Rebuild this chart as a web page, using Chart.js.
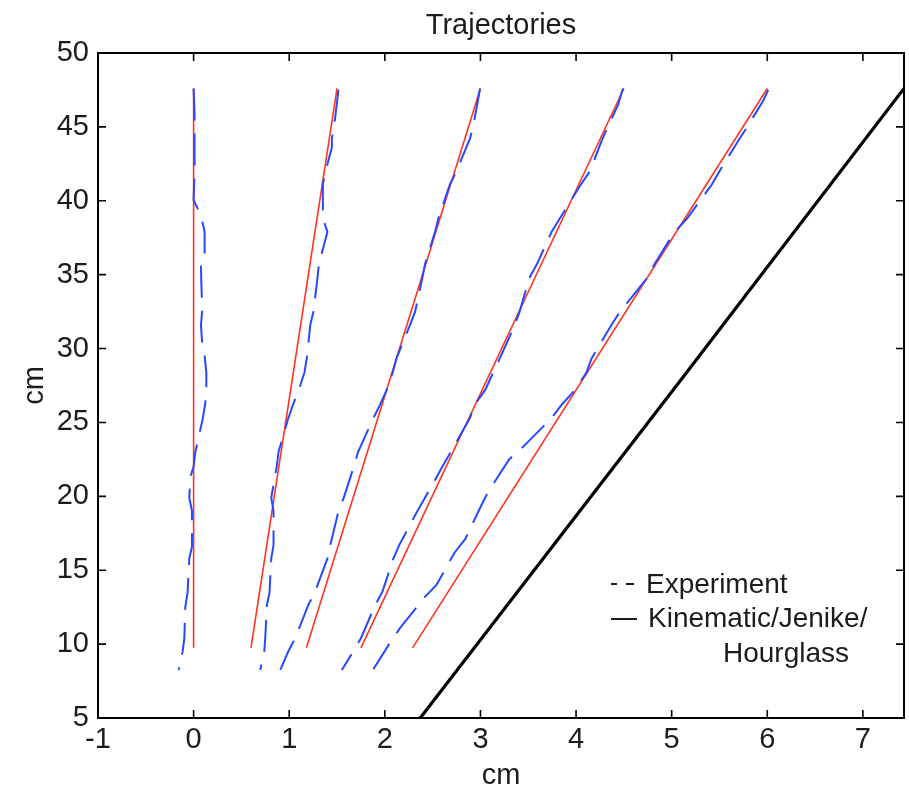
<!DOCTYPE html>
<html>
<head>
<meta charset="utf-8">
<script src="https://cdn.jsdelivr.net/npm/chart.js@4.4.1/dist/chart.umd.min.js"></script>
<style>
  html, body { margin: 0; padding: 0; background: #fff; }
  #wrap { width: 909px; height: 796px; }
</style>
</head>
<body>
<div id="wrap"><canvas id="trayectorias" width="909" height="796"></canvas></div>
<script>
// ticks
const xTicks = [-1, 0, 1, 2, 3, 4, 5, 6, 7];
const yTicks = [5, 10, 15, 20, 25, 30, 35, 40, 45, 50];

// experiment (dashed blue)
const exp1Y = [47.6, 45.9, 44.0, 42.0, 40.05, 39.0, 37.9, 36.45, 35.7, 34.6, 32.6, 31.6, 30.3, 29.5, 28.4, 27.2, 26.2, 25.2, 23.0, 22.0, 21.3, 19.9, 19.0, 16.6, 15.8, 13.5, 12.5, 10.4, 9.5, 8.25];
const exp1X = [0.0, 0.01, 0.01, 0.01, 0.0, 0.077, 0.115, 0.115, 0.077, 0.08, 0.09, 0.077, 0.09, 0.115, 0.133, 0.133, 0.12, 0.094, 0.018, 0.0, -0.035, -0.045, -0.017, -0.017, -0.045, -0.063, -0.087, -0.097, -0.115, -0.157];

const exp2Y = [47.5, 45.2, 44.2, 43.6, 41.9, 41.1, 38.8, 37.9, 35.7, 34.8, 32.5, 31.6, 29.4, 28.4, 27.2, 26.2, 25.2, 23.0, 22.1, 19.9, 19.0, 16.7, 15.8, 13.5, 12.65, 10.4, 9.5, 8.25];
const exp2X = [1.515, 1.473, 1.446, 1.446, 1.376, 1.352, 1.352, 1.40, 1.31, 1.296, 1.254, 1.22, 1.185, 1.16, 1.10, 1.04, 0.986, 0.888, 0.871, 0.812, 0.836, 0.836, 0.812, 0.794, 0.767, 0.749, 0.739, 0.697];

const exp3Y = [47.6, 45.1, 44.2, 42.0, 41.1, 38.8, 37.9, 35.7, 34.6, 32.5, 31.6, 29.4, 28.4, 27.2, 26.2, 25.3, 23.0, 22.1, 19.9, 19.0, 16.7, 15.8, 13.55, 12.65, 10.4, 9.5, 8.25];
const exp3X = [2.996, 2.926, 2.89, 2.75, 2.68, 2.56, 2.525, 2.42, 2.387, 2.317, 2.264, 2.125, 2.083, 2.02, 1.95, 1.88, 1.72, 1.68, 1.57, 1.515, 1.43, 1.40, 1.27, 1.20, 1.063, 0.99, 0.906];

const exp4Y = [47.6, 46.5, 45.1, 44.1, 42.0, 41.0, 38.8, 37.9, 35.7, 34.75, 32.5, 31.6, 29.3, 28.4, 27.2, 26.2, 25.3, 23.0, 22.1, 19.9, 19.0, 16.7, 15.8, 13.55, 12.65, 10.4, 9.5, 8.25];
const exp4X = [4.49, 4.44, 4.34, 4.27, 4.145, 4.04, 3.83, 3.745, 3.59, 3.51, 3.41, 3.36, 3.20, 3.135, 3.05, 2.94, 2.89, 2.69, 2.61, 2.42, 2.34, 2.15, 2.09, 1.975, 1.90, 1.75, 1.67, 1.55];

const exp5Y = [47.5, 46.8, 45.1, 44.2, 42.0, 41.1, 38.8, 37.8, 35.7, 34.75, 32.5, 31.6, 29.3, 28.4, 27.2, 26.2, 25.3, 23.25, 22.5, 20.3, 19.4, 17.1, 16.2, 14.0, 13.2, 11.1, 10.1, 8.3];
const exp5X = [6.01, 5.96, 5.80, 5.71, 5.50, 5.42, 5.16, 5.02, 4.82, 4.74, 4.46, 4.37, 4.16, 4.11, 3.99, 3.85, 3.745, 3.43, 3.30, 3.08, 3.01, 2.84, 2.73, 2.54, 2.42, 2.16, 2.055, 1.88];

// model (red): straight lines, top and bottom ends
const modelY = [47.6, 9.75];
const modelTopX = [0, 1.5, 3, 4.5, 6];
const modelBottomX = [0, 0.6, 1.18, 1.75, 2.29];

// kinematic / jenike / hourglass (black)
const kinY = [5, 27.9, 47.6];
const kinX = [2.37, 5.1, 7.43];

const expX = [exp1X, exp2X, exp3X, exp4X, exp5X];
const expY = [exp1Y, exp2Y, exp3Y, exp4Y, exp5Y];

const azul = 'rgb(40, 72, 255)';
const rojo = 'rgb(255, 52, 32)';
const tinta = '#1c1c1c';
const fuente = "'Liberation Sans', Arial, sans-serif";

Chart.defaults.font.family = fuente;
Chart.defaults.font.size = 29;
Chart.defaults.color = tinta;

const pares = (xs, ys) => xs.map((x, i) => ({ x: x, y: ys[i] }));

const datasets = [];
expX.forEach((xs, i) => {
    datasets.push({
        data: pares(xs, expY[i]),
        borderColor: azul,
        borderWidth: 2,
        borderDash: [32, 13],
        showLine: true,
        pointRadius: 0,
        fill: false
    });
});
modelTopX.forEach((x0, i) => {
    datasets.push({
        data: pares([x0, modelBottomX[i]], modelY),
        borderColor: rojo,
        borderWidth: 1.6,
        showLine: true,
        pointRadius: 0,
        fill: false
    });
});
datasets.push({
    data: pares(kinX, kinY),
    borderColor: '#000',
    borderWidth: 3.2,
    showLine: true,
    pointRadius: 0,
    fill: false
});

// marco, ticks hacia dentro, titulo y leyenda
const marcoYLeyenda = {
    id: 'marcoYLeyenda',
    afterDatasetsDraw(chart) {
        const { ctx, chartArea: a, scales } = chart;
        ctx.save();
        ctx.strokeStyle = '#000';
        ctx.lineWidth = 2;
        ctx.strokeRect(a.left, a.top, a.right - a.left, a.bottom - a.top);

        const len = 8;
        ctx.lineWidth = 1.6;
        ctx.beginPath();
        xTicks.forEach(v => {
            const px = scales.x.getPixelForValue(v);
            ctx.moveTo(px, a.bottom); ctx.lineTo(px, a.bottom - len);
            ctx.moveTo(px, a.top); ctx.lineTo(px, a.top + len);
        });
        yTicks.forEach(v => {
            const py = scales.y.getPixelForValue(v);
            ctx.moveTo(a.left, py); ctx.lineTo(a.left + len, py);
            ctx.moveTo(a.right, py); ctx.lineTo(a.right - len, py);
        });
        ctx.stroke();

        // titulo centrado sobre el area del grafico
        ctx.fillStyle = tinta;
        ctx.font = '29px ' + fuente;
        ctx.textAlign = 'center';
        ctx.textBaseline = 'alphabetic';
        ctx.fillText('Trajectories', (a.left + a.right) / 2, a.top - 19);

        // leyenda
        const lx = a.left + 513;
        const ly = a.top + 529;
        ctx.font = '28px ' + fuente;
        ctx.textAlign = 'left';
        ctx.fillText('Experiment', lx + 35, ly + 11);
        ctx.fillText('Kinematic/Jenike/', lx + 37, ly + 45);
        ctx.fillText('Hourglass', lx + 112, ly + 80);

        ctx.strokeStyle = tinta;
        ctx.lineWidth = 2;
        ctx.beginPath();
        ctx.moveTo(lx, ly + 2); ctx.lineTo(lx + 6, ly + 2);
        ctx.moveTo(lx + 15, ly + 2); ctx.lineTo(lx + 23, ly + 2);
        ctx.moveTo(lx, ly + 37); ctx.lineTo(lx + 26, ly + 37);
        ctx.stroke();
        ctx.restore();
    }
};

const config = {
    type: 'scatter',
    data: { datasets: datasets },
    options: {
        responsive: false,
        animation: false,
        layout: { padding: { top: 53, right: 5, left: 0, bottom: 0 } },
        plugins: {
            legend: { display: false },
            tooltip: { enabled: false },
            title: { display: false }
        },
        scales: {
            x: {
                type: 'linear',
                min: -1,
                max: 7.43,
                afterBuildTicks: s => { s.ticks = xTicks.map(v => ({ value: v })); },
                afterFit: s => { s.height = 78; },
                grid: { display: false, drawTicks: false },
                border: { display: false },
                ticks: { padding: 5, maxRotation: 0, autoSkip: false },
                title: { display: true, text: 'cm', padding: { top: 0, bottom: 3 } }
            },
            y: {
                type: 'linear',
                min: 5,
                max: 50,
                afterBuildTicks: s => { s.ticks = yTicks.map(v => ({ value: v })); },
                afterFit: s => { s.width = 98; },
                grid: { display: false, drawTicks: false },
                border: { display: false },
                ticks: { padding: 9, autoSkip: false },
                title: { display: true, text: 'cm', padding: { top: 18, bottom: 0 } }
            }
        }
    },
    plugins: [marcoYLeyenda]
};

const graficaTrayectorias = new Chart(document.getElementById('trayectorias').getContext('2d'), config);
</script>
</body>
</html>
